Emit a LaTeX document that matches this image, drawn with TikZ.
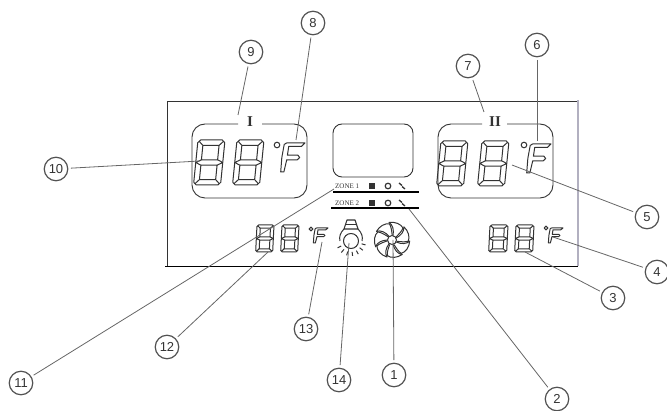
\documentclass[tikz,border=0pt]{standalone}
\usetikzlibrary{calc}
\usepackage{fontspec}
\setmainfont{Liberation Sans}
\newfontfamily\serifnum{Liberation Serif}
\definecolor{ink}{gray}{0.2}
\definecolor{lead}{gray}{0.4}
\definecolor{pale}{RGB}{178,176,192}
\tikzset{
  callout/.style={circle,draw=ink!85,line width=1.2pt,minimum size=23.5pt,inner sep=0pt,font=\fontsize{13}{13}\selectfont,text=ink},
  leader/.style={draw=lead,line width=0.8pt,shorten <=2.5pt},
  frameline/.style={draw=ink,line width=0.9pt},
  thickrule/.style={draw=black,line width=1.4pt},
  segline/.style={draw=ink,line width=1pt,line join=round},
  zonetext/.style={font=\serifnum\fontsize{7}{7}\selectfont,text=ink,inner sep=0pt}
}
% x y w h slant
\newcommand{\segdigit}[5]{%
\begin{scope}[shift={(#1,#2)},x=#3pt,y=-#4pt,xslant=#5]
\draw[segline] (0.1,0)--(0.9,0)--(1,0.06)--(1,0.94)--(0.9,1)--(0.1,1)--(0,0.94)--(0,0.06)--cycle;
\draw[segline] (0.2,0.12)--(0.8,0.12)--(0.8,0.44)--(0.2,0.44)--cycle;
\draw[segline] (0.2,0.56)--(0.8,0.56)--(0.8,0.88)--(0.2,0.88)--cycle;
\draw[segline] (0.05,0.03)--(0.2,0.12) (0.95,0.03)--(0.8,0.12) (0.05,0.97)--(0.2,0.88) (0.95,0.97)--(0.8,0.88);
\draw[segline] (0,0.5)--(0.2,0.44) (0,0.5)--(0.2,0.56) (1,0.5)--(0.8,0.44) (1,0.5)--(0.8,0.56);
\end{scope}}
% x y w h : outline F
\newcommand{\segeff}[4]{%
\begin{scope}[shift={(#1,#2)},x=#3pt,y=-#4pt,xslant=0.15]
\draw[segline] (0.02,0.05)--(0.12,0)--(1,0)--(0.85,0.12)--(0.25,0.12)--(0.25,0.42)--(0.75,0.42)--(0.85,0.5)--(0.75,0.58)--(0.25,0.58)--(0.2,1)--(0.05,1)--(0,0.5)--cycle;
\end{scope}}
\newcommand{\zoneicons}[1]{%
\fill[ink] (369,#1-3) rectangle (375,#1+3);
\draw[ink,line width=1.2pt] (388,#1) circle (2.8pt);
\draw[ink,line width=1.3pt] (399,#1-3)--(402,#1-0.5) (402,#1+0.5)--(405,#1+3);
}
\begin{document}
\begin{tikzpicture}[x=1pt,y=-1pt]
\useasboundingbox (0,0) rectangle (667,411);
% panel
\draw[frameline] (167,267)--(167,101)--(578,101);
\draw[draw=pale,line width=2pt] (578,100.5)--(578,266);
\draw[thickrule] (165,266.5)--(578,266.5);
% windows
\draw[frameline,rounded corners=13pt] (238,124)--(192,124)--(192,198)--(307,198)--(307,124)--(262,124);
\draw[frameline,rounded corners=13pt] (482,124)--(438,124)--(438,198)--(553,198)--(553,124)--(507,124);
\node[inner sep=0pt,font=\serifnum\bfseries\fontsize{15}{15}\selectfont,text=ink] (labelone) at (250,122) {I};
\node[inner sep=0pt,font=\serifnum\bfseries\fontsize{15}{15}\selectfont,text=ink] (labeltwo) at (495,122) {II};
\draw[frameline,rounded corners=9pt] (333,124) rectangle (413,177);
% zone lines
\node[zonetext,anchor=west] (zoneone) at (335,186) {ZONE 1};
\node[zonetext,anchor=west] (zonetwo) at (335,203) {ZONE 2};
\zoneicons{186}
\zoneicons{203}
\draw[thickrule] (333,192)--(419,192);
\draw[thickrule] (331,208)--(419,208);
% large digits
\segdigit{198}{140}{27}{45}{0.1}
\segdigit{237}{140}{27}{45}{0.1}
\segdigit{441}{141}{27}{45}{0.1}
\segdigit{482}{141}{27}{45}{0.1}
\draw[segline] (277,145) circle (2.8pt);
\segeff{284}{143}{21}{29}
\draw[segline] (524,145) circle (2.8pt);
\segeff{530}{144}{21}{29}
% small digits
\segdigit{257}{225}{17}{27}{0.05}
\segdigit{282}{225}{17}{27}{0.05}
\segdigit{490}{225}{18}{27}{0.05}
\segdigit{516}{225}{18}{27}{0.05}
\draw[segline] (311,229) circle (1.9pt);
\segeff{315}{228}{13}{15}
\draw[segline] (546,228) circle (1.9pt);
\segeff{550}{228}{13}{15}
% lamp
\draw[segline,line width=1.1pt] (347,220)--(355,220)--(358,229)--(344,229)--cycle;
\draw[segline] (345.5,225)--(356.5,225);
\draw[segline] (344,229) .. controls (340,233) and (339,237) .. (340,241);
\draw[segline] (358,229) .. controls (362,233) and (363,237) .. (362,241);
\draw[segline] (351,241) circle (7.5pt);
\foreach \a in {-15,-38,...,-165}{\draw[segline,line width=1pt] ($(351,241)+(\a:15pt)$) -- ($(351,241)+(\a:11pt)$);}
% fan
\coordinate (fanhub) at (392,240);
\foreach \a in {0,51.4,...,309}{
\begin{scope}[shift={(fanhub)},rotate=\a]
\draw[segline] (1,-4.5) .. controls (2,-10) and (1,-15) .. (-3,-17.5) .. controls (3,-18.5) and (9,-16) .. (11,-12) .. controls (10,-9) and (7,-6) .. (4,-3);
\end{scope}}
\draw[segline] (fanhub) circle (4.5pt);
% callouts
\node[callout] (c1) at (394,375) {1};
\node[callout] (c2) at (557,399) {2};
\node[callout] (c3) at (613,298) {3};
\node[callout] (c4) at (657,272) {4};
\node[callout] (c5) at (647,217) {5};
\node[callout] (c6) at (537,45) {6};
\node[callout] (c7) at (468,66) {7};
\node[callout] (c8) at (313,23) {8};
\node[callout] (c9) at (251,52) {9};
\node[callout] (c10) at (56,169) {10};
\node[callout] (c11) at (21,383) {11};
\node[callout] (c12) at (167,347) {12};
\node[callout] (c13) at (306,329) {13};
\node[callout] (c14) at (339,380) {14};
% free ends
\coordinate (t1) at (393,240);
\coordinate (t2) at (409,209);
\coordinate (t3) at (525,252);
\coordinate (t4) at (553,237);
\coordinate (t5) at (512,165);
\coordinate (t6) at (537,141);
\coordinate (t7) at (484,112);
\coordinate (t8) at (296,140);
\coordinate (t9) at (238,115);
\coordinate (t10) at (200,161);
\coordinate (t11) at (334,189);
\coordinate (t12) at (268,252);
\coordinate (t13) at (322,242);
\coordinate (t14) at (349,243);
\foreach \n in {1,...,14}{\draw[leader] (c\n) -- (t\n);}
\end{tikzpicture}
\end{document}
